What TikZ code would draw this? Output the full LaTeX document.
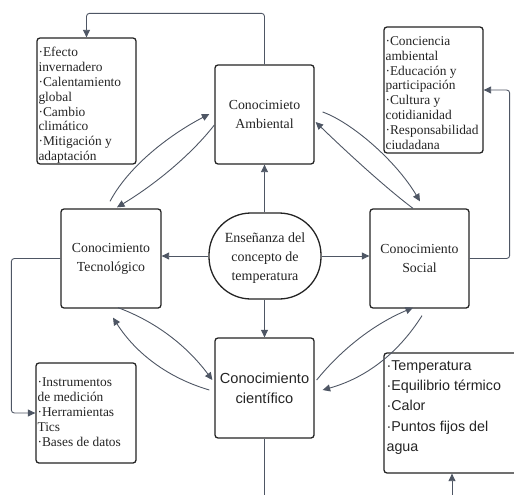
\documentclass[tikz,border=0pt]{standalone}
\usepackage{fontspec}
\setmainfont{Liberation Serif}
\setsansfont{Liberation Sans}
\usetikzlibrary{arrows.meta,calc,shapes.geometric}
\definecolor{edge}{RGB}{78,86,100}
\definecolor{ink}{RGB}{36,36,36}
\tikzset{
  box/.style={draw=ink, line width=1.3pt, rounded corners=3pt, inner sep=0pt, text=ink},
  mainbox/.style={box, minimum width=99pt, minimum height=99pt, align=center,
    font=\fontsize{13.8}{19}\selectfont},
  listbox/.style={box},
  conn/.style={draw=edge, line width=0.9pt, -{Triangle[length=7.5pt,width=7pt]}},
  plainline/.style={draw=edge, line width=0.9pt},
  listtext/.style={anchor=north west, inner sep=0pt, align=left, text=ink,
    font=\fontsize{13.4}{14.8}\selectfont},
  sanslist/.style={listtext, font=\sffamily\fontsize{14.3}{20.3}\selectfont},
}
\begin{document}
\begin{tikzpicture}[x=1pt,y=-1pt]
\clip (0,0) rectangle (514,495);

% main knowledge boxes
\node[mainbox] (amb) at (264.5,114.5) {Conocimieto\\Ambiental};
\node[mainbox, minimum width=100pt] (tec) at (111,258.5) {Conocimiento\\Tecnológico};
\node[mainbox] (soc) at (419.5,258.5) {Conocimiento\\Social};
\node[mainbox, minimum height=100pt, font=\sffamily\fontsize{14.6}{20}\selectfont]
  (cie) at (264.5,388) {Conocimiento\\científico};

% central rounded shape
\node[draw=ink, line width=1.3pt, rectangle, rounded corners=42pt, minimum width=112pt,
  minimum height=86pt, inner sep=0pt] (cen) at (265,256) {};
\node[align=center, inner sep=0pt, text=ink, font=\fontsize{14}{19}\selectfont]
  (centxt) at (265,258) {Enseñanza del\\concepto de\\temperatura};

% topic lists
\node[listbox, minimum width=99pt, minimum height=126pt] (lt) at (86.5,101) {};
\node[listtext] (lttxt) at ($(lt.north west)+(2,10)$)
  {·Efecto\\invernadero\\·Calentamiento\\global\\·Cambio\\climático\\·Mitigación y\\adaptación};

\node[listbox, minimum width=99pt, minimum height=126pt] (rt) at (433.5,90) {};
\node[listtext] (rttxt) at ($(rt.north west)+(2,10)$)
  {·Conciencia\\ambiental\\·Educación y\\participación\\·Cultura y\\cotidianidad\\·Responsabilidad\\ciudadana};

\node[listbox, minimum width=100pt, minimum height=100pt] (lb) at (86,413) {};
\node[listtext] (lbtxt) at ($(lb.north west)+(2,15.5)$)
  {·Instrumentos\\de medición\\·Herramientas\\Tics\\·Bases de datos};

\node[listbox, minimum width=136pt, minimum height=120pt] (rb) at (452,413) {};
\node[sanslist] (rbtxt) at ($(rb.north west)+(3,8)$)
  {·Temperatura\\·Equilibrio térmico\\·Calor\\·Puntos fijos del\\agua};

% from the centre outwards
\draw[conn] (cen.west) -- (cen.west -| tec.east);
\draw[conn] (cen.east) -- (cen.east -| soc.west);
\draw[conn] (cen.north -| amb.south) -- (amb.south);
\draw[conn] (cen.south -| cie.north) -- (cie.north);

% routed links to the lists
\draw[conn, rounded corners=3pt] (amb.north) -- ++(0,-51) -| (lt.north);
\draw[conn, rounded corners=3pt] (soc.east) -- ++(40,0) |- (rt.east);
\draw[conn, rounded corners=3pt] (tec.west) -- ++(-49,0) |- (lb.west);
\coordinate (cieout) at (264.5,500);
\draw[plainline] (cie.south) -- (cieout);
\coordinate (rbin) at (452,500);
\draw[conn] (rbin) -- (rb.south);

% two-way curved links between neighbouring boxes
\draw[conn] ($(tec.north)+(-1,-7)$) .. controls +(18,-34) and +(-42,22) .. ($(amb.west)+(-5,-0.5)$);
\draw[conn] ($(amb.west)+(0,10.5)$) .. controls +(-25,32) and +(35,-21) .. ($(tec.north)+(6,-1)$);

\draw[conn] ($(amb.east)+(8,-2.5)$) .. controls +(28,10) and +(-25,-42) .. ($(soc.north)+(0.5,-7)$);
\draw[conn] ($(soc.north)+(-6.5,0)$) .. controls +(-28,-21) and +(30,29) .. ($(amb.east)+(1,7.5)$);

\draw[conn] ($(tec.south)+(7,-1)$) .. controls +(39,14.5) and +(-25,-33.5) .. ($(cie.west)+(-2,-8)$);
\draw[conn] ($(cie.west)+(-5,2)$) .. controls +(-41,-12) and +(23,36) .. ($(tec.south)+(2,9)$);

\draw[conn] ($(cie.east)+(2,-8)$) .. controls +(26,-32) and +(-38,16) .. ($(soc.south)+(-6.5,-1)$);
\draw[conn] ($(soc.south)+(2.5,7)$) .. controls +(-24,38) and +(43,-12) .. ($(cie.east)+(8,2)$);
\end{tikzpicture}
\end{document}
